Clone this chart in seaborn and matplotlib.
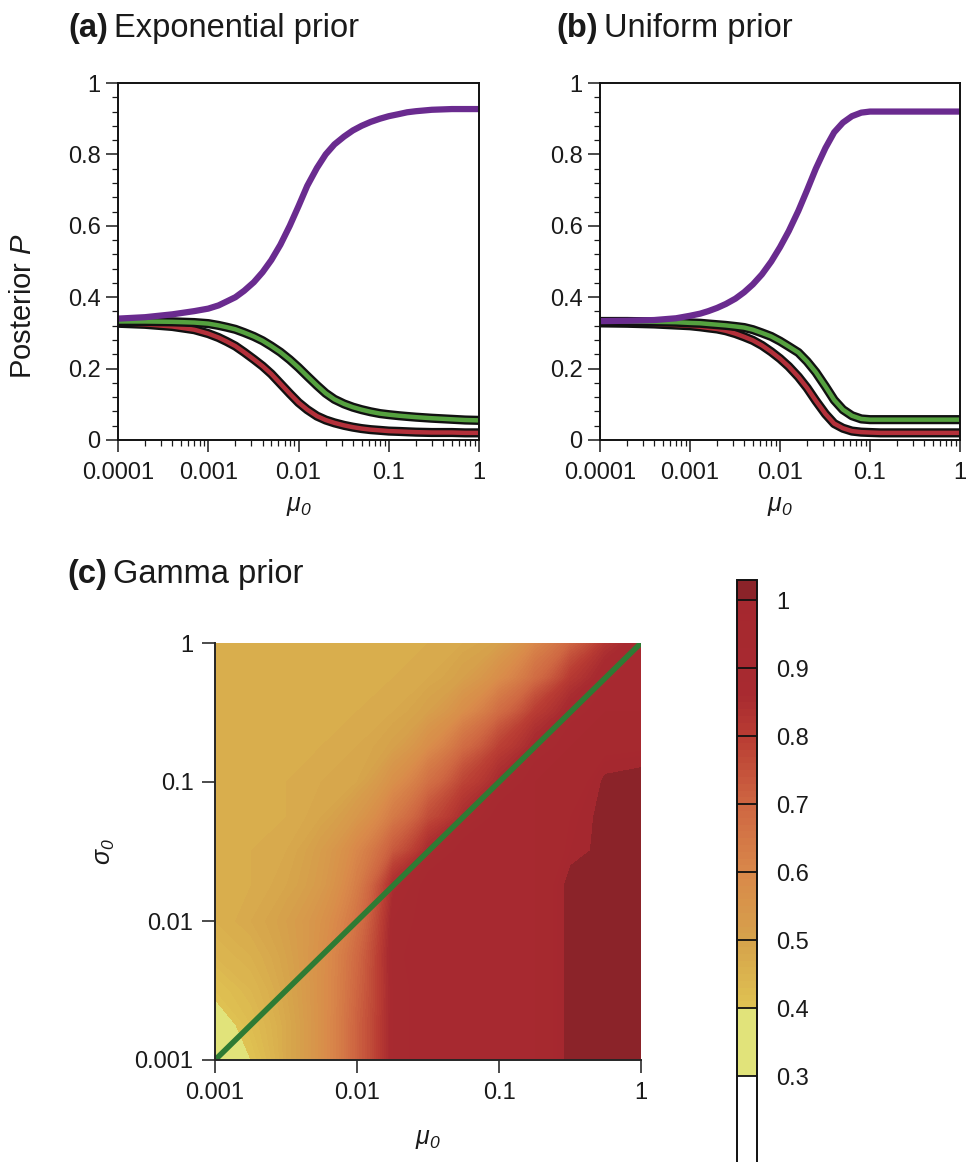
import numpy as np
import matplotlib
matplotlib.use("Agg")
import matplotlib.pyplot as plt
import matplotlib.patheffects as pe
from matplotlib.ticker import FixedLocator, FixedFormatter, MultipleLocator, LogLocator, NullFormatter, NullLocator
import seaborn as sns

# ---------------------------------------------------------------- data
# prior mean mu_0 sampled for the one-dimensional priors
mu0 = [1e-4, 2e-4, 4e-4, 7e-4, 1e-3, 1.3e-3, 1.6e-3, 2e-3, 2.5e-3, 3.2e-3, 4e-3, 5e-3,
       6.3e-3, 8e-3, 1e-2, 1.25e-2, 1.6e-2, 2e-2, 2.5e-2, 3.2e-2, 4e-2, 5e-2, 6.3e-2,
       8e-2, 0.1, 0.13, 0.16, 0.2, 0.3, 0.5, 0.7, 1.0]

# (a) exponential prior: posterior probability of each model
exp_purple = [0.340, 0.344, 0.352, 0.361, 0.368, 0.377, 0.388, 0.400, 0.418, 0.442,
              0.470, 0.504, 0.547, 0.600, 0.655, 0.712, 0.762, 0.800, 0.828, 0.850,
              0.867, 0.880, 0.891, 0.900, 0.907, 0.913, 0.918, 0.921, 0.925, 0.927,
              0.927, 0.927]
exp_green = [0.332, 0.332, 0.331, 0.329, 0.326, 0.321, 0.316, 0.310, 0.301, 0.290,
             0.278, 0.263, 0.246, 0.225, 0.203, 0.179, 0.153, 0.131, 0.114, 0.101,
             0.092, 0.085, 0.079, 0.074, 0.071, 0.068, 0.066, 0.064, 0.061, 0.058,
             0.056, 0.055]
exp_red = [0.327, 0.324, 0.318, 0.309, 0.298, 0.287, 0.276, 0.263, 0.246, 0.226,
           0.207, 0.185, 0.158, 0.130, 0.105, 0.085, 0.067, 0.056, 0.048, 0.041,
           0.036, 0.032, 0.029, 0.027, 0.025, 0.024, 0.023, 0.022, 0.021, 0.021,
           0.020, 0.020]

# (b) uniform prior
uni_purple = [0.333, 0.334, 0.336, 0.341, 0.348, 0.354, 0.361, 0.370, 0.381, 0.396,
              0.414, 0.436, 0.464, 0.500, 0.540, 0.585, 0.642, 0.700, 0.760, 0.818,
              0.862, 0.889, 0.907, 0.917, 0.920, 0.920, 0.920, 0.920, 0.920, 0.920,
              0.920, 0.920]
uni_green = [0.332, 0.332, 0.331, 0.330, 0.328, 0.327, 0.325, 0.323, 0.321, 0.318,
             0.315, 0.309, 0.300, 0.290, 0.277, 0.262, 0.245, 0.220, 0.190, 0.150,
             0.112, 0.085, 0.068, 0.059, 0.057, 0.057, 0.057, 0.057, 0.057, 0.057,
             0.057, 0.057]
uni_red = [0.328, 0.327, 0.325, 0.322, 0.320, 0.317, 0.314, 0.311, 0.306, 0.298,
           0.289, 0.279, 0.265, 0.247, 0.228, 0.206, 0.177, 0.146, 0.110, 0.073,
           0.046, 0.033, 0.025, 0.022, 0.021, 0.020, 0.020, 0.020, 0.020, 0.020,
           0.020, 0.020]

# (c) gamma prior: posterior of the true model over (mu_0, sigma_0)
gamma_mu = [0.001, 0.0018, 0.0032, 0.0056, 0.01, 0.018, 0.032, 0.056, 0.1, 0.18, 0.32, 0.56, 1.0]
gamma_sigma = [0.001, 0.0018, 0.0032, 0.0056, 0.01, 0.018, 0.032, 0.056, 0.1, 0.18, 0.32, 0.56, 1.0]
gamma_P = [
    [0.35, 0.40, 0.48, 0.57, 0.71, 0.88, 0.93, 0.93, 0.93, 0.93, 1.02, 1.02, 1.02],
    [0.38, 0.42, 0.48, 0.57, 0.71, 0.88, 0.93, 0.93, 0.93, 0.93, 1.02, 1.02, 1.02],
    [0.41, 0.44, 0.49, 0.57, 0.70, 0.88, 0.93, 0.93, 0.93, 0.93, 1.02, 1.02, 1.02],
    [0.44, 0.46, 0.50, 0.57, 0.69, 0.89, 0.93, 0.93, 0.93, 0.93, 1.02, 1.02, 1.02],
    [0.46, 0.48, 0.51, 0.56, 0.66, 0.88, 0.92, 0.93, 0.93, 0.93, 1.02, 1.02, 1.02],
    [0.47, 0.47, 0.49, 0.53, 0.63, 0.85, 0.92, 0.93, 0.93, 0.93, 1.02, 1.02, 1.02],
    [0.47, 0.47, 0.48, 0.52, 0.60, 0.73, 0.86, 0.92, 0.93, 0.93, 0.98, 1.02, 1.02],
    [0.47, 0.47, 0.47, 0.49, 0.54, 0.64, 0.76, 0.85, 0.92, 0.93, 0.97, 1.02, 1.02],
    [0.47, 0.47, 0.47, 0.48, 0.49, 0.57, 0.67, 0.78, 0.86, 0.93, 0.94, 1.01, 1.02],
    [0.47, 0.47, 0.47, 0.47, 0.48, 0.505, 0.58, 0.68, 0.79, 0.87, 0.93, 0.95, 0.96],
    [0.47, 0.47, 0.47, 0.47, 0.47, 0.48, 0.51, 0.58, 0.68, 0.80, 0.88, 0.93, 0.93],
    [0.47, 0.47, 0.47, 0.47, 0.47, 0.47, 0.48, 0.51, 0.58, 0.68, 0.81, 0.89, 0.93],
    [0.47, 0.47, 0.47, 0.47, 0.47, 0.47, 0.47, 0.48, 0.505, 0.60, 0.70, 0.82, 0.90],
]
# mu_0 = sigma_0 reference line
diag_line = [0.001, 1.0]

tick_1d = [1e-4, 1e-3, 1e-2, 0.1, 1.0]
tick_1d_labels = ["0.0001", "0.001", "0.01", "0.1", "1"]
tick_p = [0, 0.2, 0.4, 0.6, 0.8, 1.0]
tick_p_labels = ["0", "0.2", "0.4", "0.6", "0.8", "1"]
tick_2d = [0.001, 0.01, 0.1, 1.0]
tick_2d_labels = ["0.001", "0.01", "0.1", "1"]
cbar_ticks = [0.3, 0.4, 0.5, 0.6, 0.7, 0.8, 0.9, 1.0]
cbar_labels = ["0.3", "0.4", "0.5", "0.6", "0.7", "0.8", "0.9", "1"]

# ---------------------------------------------------------------- style
sns.set_theme(style="ticks")
plt.rcParams["font.family"] = ["Liberation Sans", "DejaVu Sans"]
plt.rcParams["mathtext.fontset"] = "custom"
plt.rcParams["mathtext.rm"] = "Liberation Sans:italic"
plt.rcParams["mathtext.it"] = "Liberation Sans:italic"
plt.rcParams["mathtext.bf"] = "Liberation Sans:bold"
plt.rcParams["axes.linewidth"] = 1.4
TXT = "#1a1a1a"

PURPLE = "#6a2b8f"
GREEN = "#55a13f"
RED = "#b3303a"
outline = [pe.Stroke(linewidth=6.6, foreground="#111111"), pe.Normal()]

fig = plt.figure(figsize=(9.67, 11.62), dpi=100)
W, H = 967.0, 1162.0


def px_axes(left, top, right, bottom):
    return fig.add_axes([left / W, 1 - bottom / H, (right - left) / W, (bottom - top) / H])


def style_1d(ax):
    ax.set_xscale("log")
    ax.set_xlim(1e-4, 1.0)
    ax.set_ylim(0, 1)
    ax.xaxis.set_major_locator(FixedLocator(tick_1d))
    ax.xaxis.set_major_formatter(FixedFormatter(tick_1d_labels))
    ax.xaxis.set_minor_locator(LogLocator(base=10, subs=np.arange(2, 10)))
    ax.xaxis.set_minor_formatter(NullFormatter())
    ax.yaxis.set_major_locator(FixedLocator(tick_p))
    ax.yaxis.set_major_formatter(FixedFormatter(tick_p_labels))
    ax.yaxis.set_minor_locator(MultipleLocator(0.04))
    ax.tick_params(which="major", length=8.5, width=1.1, labelsize=17, colors=TXT, pad=4)
    ax.tick_params(axis="x", which="major", pad=7)
    ax.tick_params(which="minor", length=4.5, width=0.9, color=TXT)
    for s in ax.spines.values():
        s.set_visible(True)
        s.set_color("#111111")
    ax.set_xlabel(r"$\mu_{0}$", fontsize=18, color=TXT)
    ax.xaxis.set_label_coords(0.5, -0.15)


def draw_curves(ax, purple, green, red):
    sns.lineplot(x=mu0, y=red, ax=ax, color=RED, linewidth=3.2)
    ax.lines[-1].set_path_effects(outline)
    sns.lineplot(x=mu0, y=green, ax=ax, color=GREEN, linewidth=3.2)
    ax.lines[-1].set_path_effects(outline)
    sns.lineplot(x=mu0, y=purple, ax=ax, color=PURPLE, linewidth=4.5)
    for ln in ax.lines:
        ln.set_solid_capstyle("butt")
        ln.set_solid_joinstyle("round")


# (a) Exponential prior
ax_a = px_axes(118, 83, 479, 440)
draw_curves(ax_a, exp_purple, exp_green, exp_red)
style_1d(ax_a)
ax_a.set_ylabel("Posterior $P$", fontsize=21, color=TXT)
ax_a.yaxis.set_label_coords(-0.225, 0.375)

# (b) Uniform prior
ax_b = px_axes(600, 83, 960, 440)
draw_curves(ax_b, uni_purple, uni_green, uni_red)
style_1d(ax_b)
ax_b.set_ylabel("")

# (c) Gamma prior
ax_c = px_axes(215, 643, 641, 1060)
levels = np.round(np.arange(10, 104) / 100.0, 2)
anchor_v = [0.30, 0.40, 0.40, 0.50, 0.60, 0.70, 0.80, 0.86, 1.00, 1.00, 1.03]
anchor_c = ["#e1e37a", "#e1e37a", "#dfc352", "#d6a24b", "#d9884a", "#ce6642",
            "#b93c33", "#a82a30", "#a5282f", "#8b2329", "#8b2329"]
anchor_rgb = np.array([matplotlib.colors.to_rgb(c) for c in anchor_c])
band_colors = []
for lo, hi in zip(levels[:-1], levels[1:]):
    m = 0.5 * (lo + hi)
    if m < 0.3:
        band_colors.append((1.0, 1.0, 1.0))
    else:
        band_colors.append(tuple(np.interp(m, anchor_v, anchor_rgb[:, k]) for k in range(3)))

cs = ax_c.contourf(gamma_mu, gamma_sigma, np.array(gamma_P), levels=levels,
                   colors=band_colors, antialiased=False)
sns.lineplot(x=diag_line, y=diag_line, ax=ax_c, color="#2e7b34", linewidth=4.0)
ax_c.lines[-1].set_solid_capstyle("round")
ax_c.set_xscale("log")
ax_c.set_yscale("log")
ax_c.set_xlim(0.001, 1.0)
ax_c.set_ylim(0.001, 1.0)
ax_c.xaxis.set_major_locator(FixedLocator(tick_2d))
ax_c.xaxis.set_major_formatter(FixedFormatter(tick_2d_labels))
ax_c.yaxis.set_major_locator(FixedLocator(tick_2d))
ax_c.yaxis.set_major_formatter(FixedFormatter(tick_2d_labels))
ax_c.xaxis.set_minor_locator(NullLocator())
ax_c.yaxis.set_minor_locator(NullLocator())
ax_c.tick_params(which="major", length=9.5, width=1.1, labelsize=17, colors=TXT, pad=6)
ax_c.spines["top"].set_visible(False)
ax_c.spines["right"].set_visible(False)
ax_c.set_xlabel(r"$\mu_{0}$", fontsize=18, color=TXT)
ax_c.xaxis.set_label_coords(0.5, -0.16)
ax_c.set_ylabel(r"$\sigma_{0}$", fontsize=18, color=TXT)
ax_c.yaxis.set_label_coords(-0.23, 0.5)

# colour bar, running past the lower edge of the figure
cax = fig.add_axes([737 / W, 1 - 1212 / H, 20 / W, (1212 - 580) / H])
cbar = fig.colorbar(cs, cax=cax, ticks=cbar_ticks)
cbar.ax.set_yticklabels(cbar_labels)
cbar.ax.tick_params(length=0, pad=14, labelsize=17, colors=TXT)
cbar.outline.set_linewidth(1.4)
cbar.outline.set_edgecolor("#111111")
for v in cbar_ticks:
    cbar.ax.axhline(v, color="#111111", linewidth=1.3)


# panel titles: bold tag followed by plain text
def panel_title(x, y, tag, text):
    t = fig.text(x / W, 1 - y / H, tag, fontsize=23.5, fontweight="bold", color=TXT,
                 va="baseline", ha="left")
    fig.canvas.draw()
    bb = t.get_window_extent()
    fig.text((bb.x1 + 6) / W, 1 - y / H, text, fontsize=23.5, color=TXT,
             va="baseline", ha="left")


panel_title(68, 37, "(a)", "Exponential prior")
panel_title(556, 37, "(b)", "Uniform prior")
panel_title(67, 583, "(c)", "Gamma prior")

fig.savefig("out.png", dpi=100)
